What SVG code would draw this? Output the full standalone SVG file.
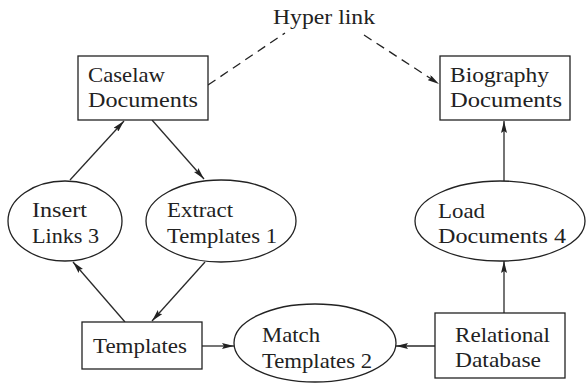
<svg xmlns="http://www.w3.org/2000/svg" width="587" height="385" viewBox="0 0 587 385">
<style>
.box{fill:#fff;stroke:#222;stroke-width:1.3}
.t{font-family:"Liberation Serif","Times New Roman",serif;font-size:22px;fill:#222}
.c{stroke:#2a2a2a;stroke-width:1.3;fill:none}
.d{stroke:#222;stroke-width:1.3;fill:none;stroke-dasharray:9 6}
</style>
<defs>
<marker id="a" viewBox="0 0 12 6" refX="12" refY="3" markerWidth="12" markerHeight="6" markerUnits="userSpaceOnUse" orient="auto">
<path d="M0,0 L12,3 L0,6 L2,3 Z" fill="#222"/>
</marker>
</defs>
<rect width="587" height="385" fill="#fff"/>
<g id="connectors">
<line class="d" x1="208" y1="85" x2="285" y2="33"/>
<line class="d" x1="364" y1="35" x2="439" y2="84" marker-end="url(#a)"/>
<line class="c" x1="70" y1="180" x2="124" y2="121" marker-end="url(#a)"/>
<line class="c" x1="152" y1="120" x2="204" y2="179" marker-end="url(#a)"/>
<line class="c" x1="125" y1="322" x2="73" y2="262" marker-end="url(#a)"/>
<line class="c" x1="205" y1="262" x2="152" y2="321" marker-end="url(#a)"/>
<line class="c" x1="202" y1="346" x2="234" y2="346" marker-end="url(#a)"/>
<line class="c" x1="435" y1="346" x2="396" y2="346" marker-end="url(#a)"/>
<line class="c" x1="504" y1="313" x2="504" y2="261" marker-end="url(#a)"/>
<line class="c" x1="504" y1="181" x2="504" y2="121" marker-end="url(#a)"/>
</g>
<g id="hyperlink-label">
<text class="t" x="273" y="24" textLength="102" lengthAdjust="spacingAndGlyphs">Hyper link</text>
</g>
<g id="caselaw">
<rect class="box" x="78" y="56" width="130" height="64"/>
<text class="t" x="88" y="82" textLength="77" lengthAdjust="spacingAndGlyphs">Caselaw</text>
<text class="t" x="88" y="107" textLength="110" lengthAdjust="spacingAndGlyphs">Documents</text>
</g>
<g id="biography">
<rect class="box" x="440" y="56" width="130" height="64"/>
<text class="t" x="450" y="82" textLength="99" lengthAdjust="spacingAndGlyphs">Biography</text>
<text class="t" x="450" y="107" textLength="112" lengthAdjust="spacingAndGlyphs">Documents</text>
</g>
<g id="insert-links">
<ellipse class="box" cx="65" cy="221" rx="57" ry="40"/>
<text class="t" x="32" y="217" textLength="55" lengthAdjust="spacingAndGlyphs">Insert</text>
<text class="t" x="32" y="243" textLength="67" lengthAdjust="spacingAndGlyphs">Links 3</text>
</g>
<g id="extract-templates">
<ellipse class="box" cx="221" cy="221" rx="75" ry="41"/>
<text class="t" x="167" y="217" textLength="66" lengthAdjust="spacingAndGlyphs">Extract</text>
<text class="t" x="167" y="243" textLength="110" lengthAdjust="spacingAndGlyphs">Templates 1</text>
</g>
<g id="load-documents">
<ellipse class="box" cx="500" cy="221" rx="85" ry="40"/>
<text class="t" x="438" y="218" textLength="47" lengthAdjust="spacingAndGlyphs">Load</text>
<text class="t" x="438" y="243" textLength="128" lengthAdjust="spacingAndGlyphs">Documents 4</text>
</g>
<g id="templates">
<rect class="box" x="82" y="322" width="120" height="47"/>
<text class="t" x="93" y="353" textLength="94" lengthAdjust="spacingAndGlyphs">Templates</text>
</g>
<g id="match-templates">
<ellipse class="box" cx="315" cy="343" rx="81" ry="39"/>
<text class="t" x="262" y="342" textLength="58" lengthAdjust="spacingAndGlyphs">Match</text>
<text class="t" x="262" y="368" textLength="110" lengthAdjust="spacingAndGlyphs">Templates 2</text>
</g>
<g id="relational-database">
<rect class="box" x="435" y="313" width="130" height="65"/>
<text class="t" x="455" y="342" textLength="95" lengthAdjust="spacingAndGlyphs">Relational</text>
<text class="t" x="455" y="367" textLength="86" lengthAdjust="spacingAndGlyphs">Database</text>
</g>
</svg>
